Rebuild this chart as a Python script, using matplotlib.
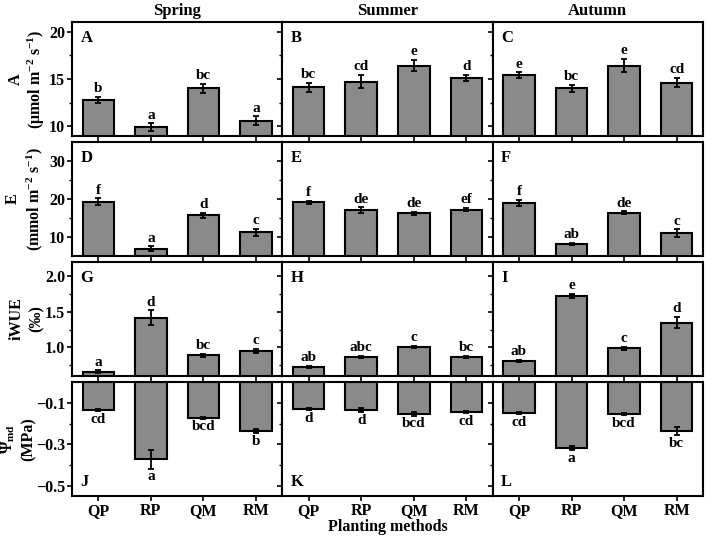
import numpy as np
import matplotlib
matplotlib.use("Agg")
import matplotlib.pyplot as plt
from matplotlib.ticker import FixedLocator

plt.rcParams['font.family'] = ['Liberation Serif', 'DejaVu Serif']
plt.rcParams['font.weight'] = 'bold'
plt.rcParams['mathtext.fontset'] = 'custom'
plt.rcParams['mathtext.rm'] = 'Liberation Serif:bold'
plt.rcParams['mathtext.it'] = 'Liberation Serif:bold'
plt.rcParams['mathtext.bf'] = 'Liberation Serif:bold'

methods = ['QP', 'RP', 'QM', 'RM']
seasons = ['Spring', 'Summer', 'Autumn']

# photosynthesis rate A
A_mean = [[12.8, 9.9, 14.0, 10.6], [14.1, 14.7, 16.4, 15.1], [15.4, 14.0, 16.4, 14.6]]
A_err = [[0.3, 0.4, 0.5, 0.45], [0.5, 0.7, 0.6, 0.3], [0.3, 0.35, 0.7, 0.5]]
A_let = [['b', 'a', 'bc', 'a'], ['bc', 'cd', 'e', 'd'], ['e', 'bc', 'e', 'cd']]

# transpiration E
E_mean = [[19.3, 6.9, 15.7, 11.2], [19.1, 17.0, 16.2, 17.2], [18.9, 8.1, 16.4, 11.0]]
E_err = [[0.9, 0.6, 0.7, 0.9], [0.4, 0.8, 0.4, 0.5], [0.8, 0.3, 0.3, 1.0]]
E_let = [['f', 'a', 'd', 'c'], ['f', 'de', 'de', 'ef'], ['f', 'ab', 'de', 'c']]

# iWUE
W_mean = [[0.66, 1.42, 0.89, 0.95], [0.73, 0.87, 1.01, 0.87], [0.81, 1.72, 0.99, 1.35]]
W_err = [[0.02, 0.1, 0.02, 0.03], [0.015, 0.015, 0.015, 0.015], [0.02, 0.03, 0.02, 0.08]]
W_let = [['a', 'd', 'bc', 'c'], ['ab', 'abc', 'c', 'bc'], ['ab', 'e', 'c', 'd']]

# midday water potential
P_mean = [[-0.134, -0.373, -0.171, -0.236], [-0.130, -0.135, -0.153, -0.143], [-0.150, -0.318, -0.155, -0.235]]
P_err = [[0.005, 0.045, 0.005, 0.01], [0.005, 0.01, 0.008, 0.005], [0.005, 0.012, 0.005, 0.02]]
P_let = [['cd', 'a', 'bcd', 'b'], ['d', 'd', 'bcd', 'cd'], ['cd', 'a', 'bcd', 'bc']]

A_ticks, A_minor = [10, 15, 20], [12.5, 17.5]
E_ticks, E_minor = [10, 20, 30], [15, 25]
W_ticks, W_minor = [1.0, 1.5, 2.0], [0.75, 1.25, 1.75]
P_ticks, P_minor = [-0.5, -0.3, -0.1], [-0.4, -0.2]

rows = [
    (A_mean, A_err, A_let, (9, 21), A_ticks, A_minor, ('A', '(μmol m$^{-2}$ s$^{-1}$)'), ['A', 'B', 'C']),
    (E_mean, E_err, E_let, (5, 35), E_ticks, E_minor, ('E', '(mmol m$^{-2}$ s$^{-1}$)'), ['D', 'E', 'F']),
    (W_mean, W_err, W_let, (0.6, 2.2), W_ticks, W_minor, ('iWUE', '(‰)'), ['G', 'H', 'I']),
    (P_mean, P_err, P_let, (-0.55, 0), P_ticks, P_minor, ('Ψ$_{md}$', '(MPa)'), ['J', 'K', 'L']),
]
label_x = [(-0.265, -0.168), (-0.28, -0.175), (-0.265, -0.17), (-0.305, -0.207)]

fig, axes = plt.subplots(4, 3, figsize=(7.09, 5.41), dpi=100)
fig.subplots_adjust(left=0.1016, right=0.9915, top=0.9593, bottom=0.0832,
                    wspace=0, hspace=0.055)

x = np.arange(1, 5)
for r, (mean, err, lets, ylim, ticks, minors, ylabel, panels) in enumerate(rows):
    span = ylim[1] - ylim[0]
    for c in range(3):
        ax = axes[r, c]
        m = np.array(mean[c])
        e = np.array(err[c])
        ax.bar(x, m, width=0.6, color='#8a8a8a', edgecolor='black', linewidth=1.5, zorder=2)
        ax.errorbar(x, m, yerr=e, fmt='none', ecolor='black', elinewidth=1.3,
                    capsize=2, capthick=1.3, zorder=3)
        for xi, mi, ei, lt in zip(x, m, e, lets[c]):
            if mi >= 0:
                ax.text(xi, mi + ei + span * 0.015, lt, ha='center', va='bottom',
                        fontsize=11, fontweight='bold')
            else:
                ax.text(xi, mi - ei - span * 0.015, lt, ha='center', va='top',
                        fontsize=11, fontweight='bold')
        ax.set_xlim(0.5, 4.5)
        ax.set_ylim(*ylim)
        ax.yaxis.set_major_locator(FixedLocator(ticks))
        ax.yaxis.set_minor_locator(FixedLocator(minors))
        ax.set_xticks(x)
        ax.tick_params(axis='both', which='major', direction='out', length=3.5,
                       width=1.2, labelsize=11.5, pad=1.5)
        ax.tick_params(axis='y', which='minor', direction='out', length=2, width=1.0)
        if r == 3:
            ax.set_xticklabels(methods, fontsize=11.5, fontweight='bold')
        else:
            ax.set_xticklabels([])
        if c > 0:
            ax.set_yticklabels([])
        for sp in ax.spines.values():
            sp.set_linewidth(1.5)
        if r == 3:
            ax.text(0.04, 0.05, panels[c], transform=ax.transAxes, ha='left',
                    va='bottom', fontsize=12, fontweight='bold')
        else:
            ax.text(0.04, 0.93, panels[c], transform=ax.transAxes, ha='left',
                    va='top', fontsize=12, fontweight='bold')
        if r == 0:
            ax.set_title(seasons[c], fontsize=12, fontweight='bold', pad=5)
    # two-line y label, each line placed separately
    ax0 = axes[r, 0]
    ax0.text(label_x[r][0], 0.5, ylabel[0], transform=ax0.transAxes, rotation=90,
             ha='center', va='center', fontsize=11.5, fontweight='bold')
    ax0.text(label_x[r][1], 0.5, ylabel[1], transform=ax0.transAxes, rotation=90,
             ha='center', va='center', fontsize=11.5, fontweight='bold')

fig.text(0.5465, 0.012, 'Planting methods', ha='center', va='bottom',
         fontsize=11.5, fontweight='bold')

fig.savefig('out.png', dpi=100)
